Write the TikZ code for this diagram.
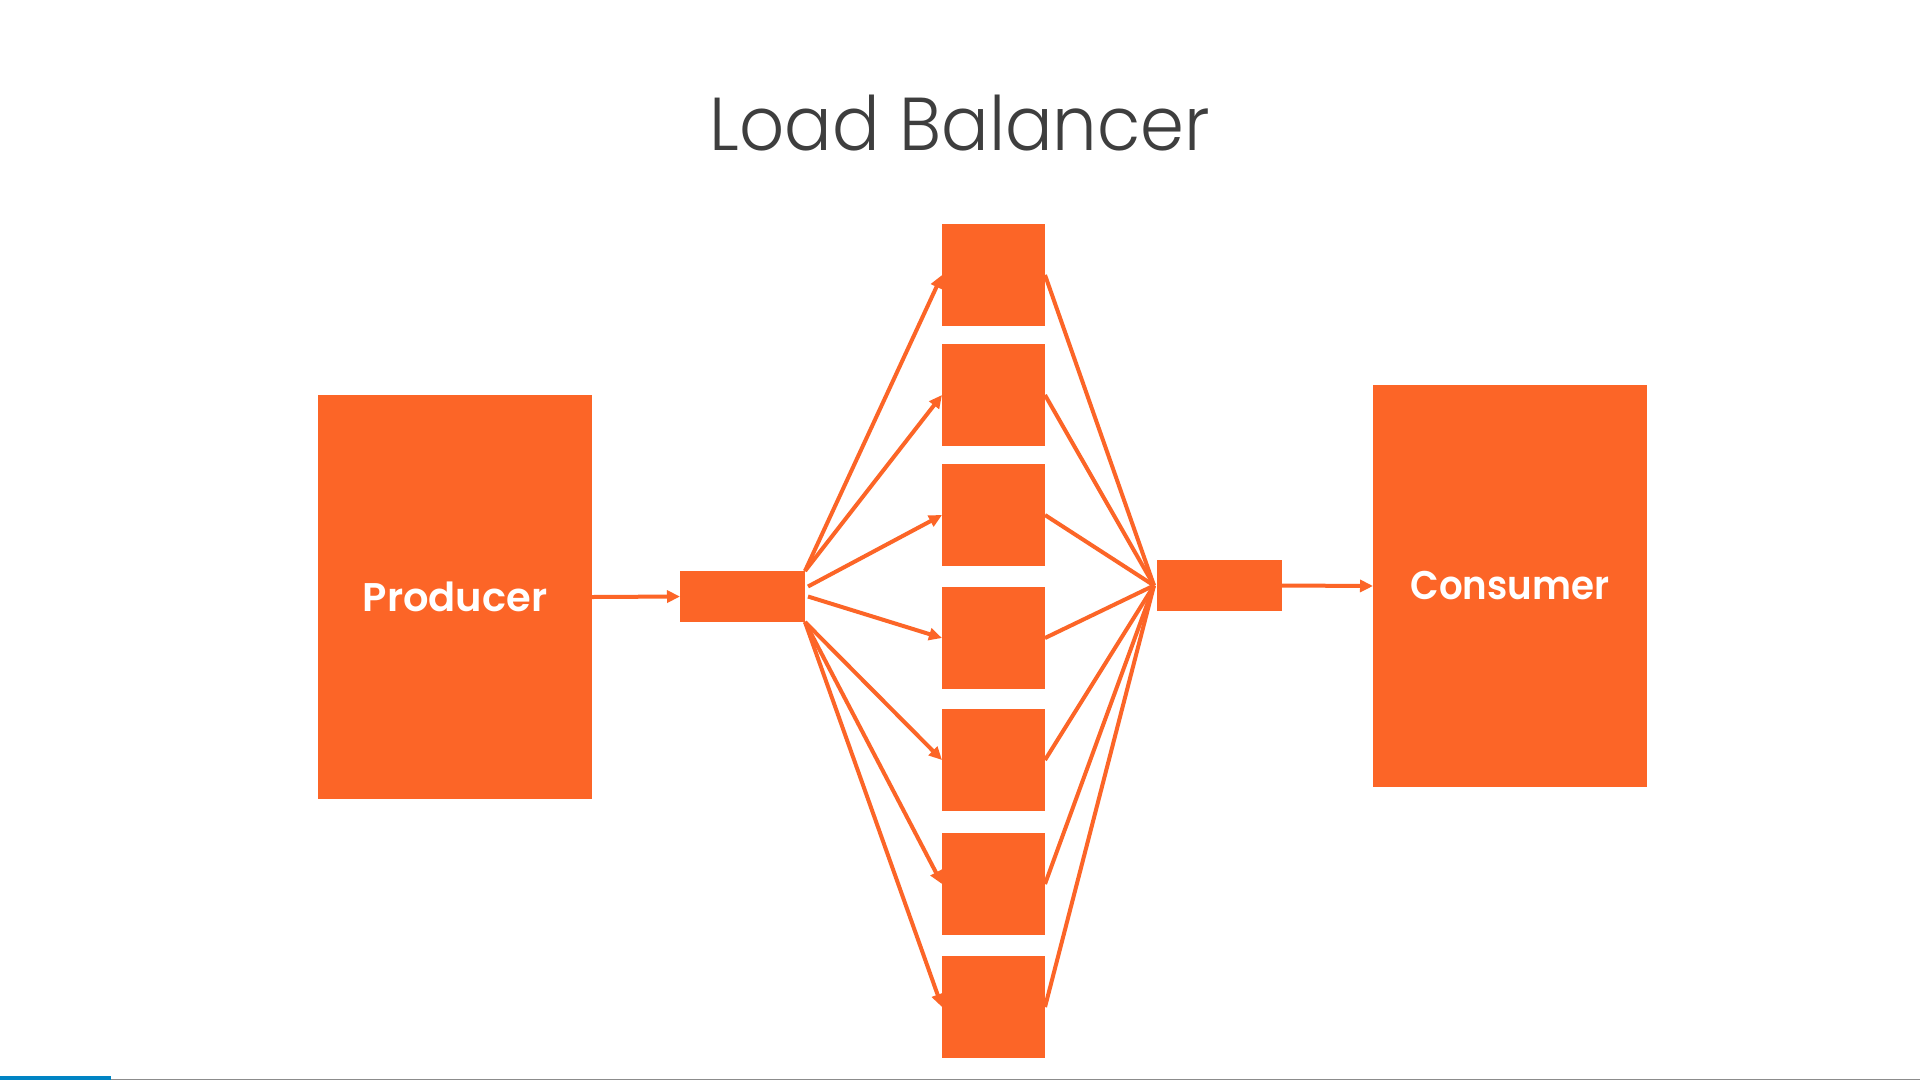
\documentclass[tikz,border=0pt]{standalone}
\usepackage{fontspec}
\setmainfont{Poppins}
\newfontfamily\titlefont{Poppins Light}
\newfontfamily\labelfont{Poppins SemiBold}
\usetikzlibrary{arrows.meta,calc}
\definecolor{ps}{RGB}{252,101,39}
\definecolor{tgray}{RGB}{62,62,62}
\definecolor{barblue}{RGB}{0,132,196}
\definecolor{bargray}{RGB}{140,140,140}
\begin{document}
\begin{tikzpicture}[x=1pt,y=-1pt,
  box/.style={fill=ps,draw=none,inner sep=0pt,outer sep=0pt},
  bigbox/.style={box,minimum width=274pt,text=white,font=\labelfont\fontsize{40}{48}\selectfont},
  smallbox/.style={box,minimum width=125pt,minimum height=51pt},
  midbox/.style={box,minimum width=103pt,minimum height=102pt},
  conn/.style={draw=ps,line width=4pt},
  arr/.style={conn,-{Triangle[length=13pt,width=12pt]}}]
\useasboundingbox[fill=white] (0,0) rectangle (1920,1080);
\node[anchor=base,font=\titlefont\fontsize{75}{90}\selectfont,text=tgray] (title) at (960,150) {\scalebox{0.94}[1]{Load Balancer}};

\node[bigbox,minimum height=404pt] (prod) at (455,597) {Producer};
\node[bigbox,minimum height=402pt] (cons) at (1510,586) {\scalebox{0.93}[1]{Consumer}};
\node[smallbox] (L) at (742.5,596.5) {};
\node[smallbox] (R) at (1219.5,585.5) {};

\node[midbox] (m1) at (993.5,275) {};
\node[midbox] (m2) at (993.5,395) {};
\node[midbox] (m3) at (993.5,515) {};
\node[midbox] (m4) at (993.5,638) {};
\node[midbox] (m5) at (993.5,760) {};
\node[midbox] (m6) at (993.5,884) {};
\node[midbox] (m7) at (993.5,1007) {};

\coordinate (l3) at ($(L.east)+(3,-10)$);
\coordinate (l4) at ($(L.east)+(3,0)$);
\coordinate (rin) at ($(R.west)+(-3,0)$);

\draw[arr] (prod.east) -- (L.west);
\draw[arr] (R.east) -- (cons.west);

\draw[arr] (L.north east) -- (m1.west);
\draw[arr] (L.north east) -- (m2.west);
\draw[arr] (l3) -- (m3.west);
\draw[arr] (l4) -- (m4.west);
\draw[arr] (L.south east) -- (m5.west);
\draw[arr] (L.south east) -- (m6.west);
\draw[arr] (L.south east) -- (m7.west);

\foreach \i in {1,...,7} {
  \draw[conn] (m\i.east) -- (rin);
}

\fill[bargray] (111,1078.5) rectangle (1920,1080);
\fill[barblue] (0,1076) rectangle (111,1080);
\end{tikzpicture}
\end{document}
